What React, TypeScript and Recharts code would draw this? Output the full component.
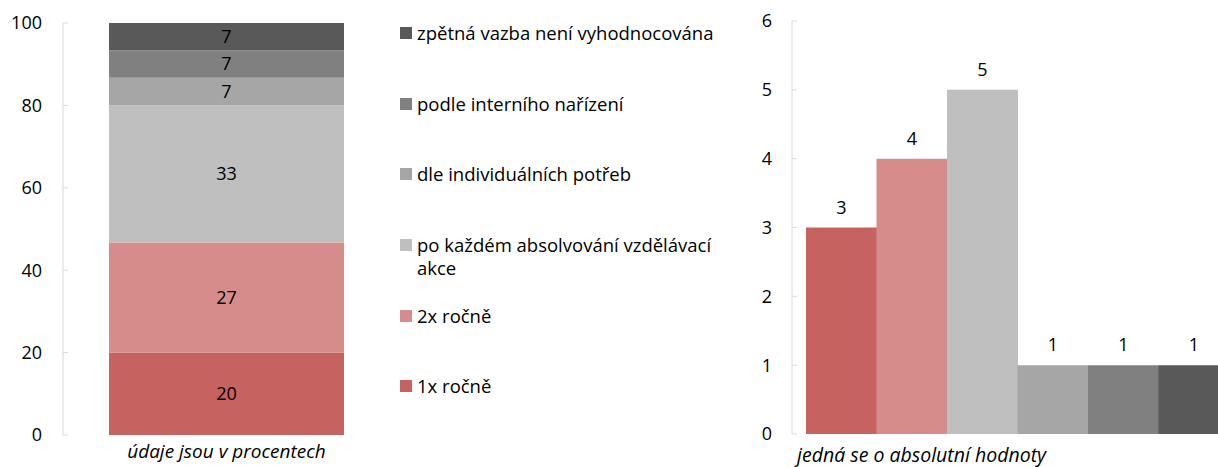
import { BarChart, Bar, XAxis, YAxis, LabelList, Cell } from "recharts";

const seriesNames: string[] = [
  "1x ročně",
  "2x ročně",
  "po každém absolvování vzdělávací akce",
  "dle individuálních potřeb",
  "podle interního nařízení",
  "zpětná vazba není vyhodnocována",
];
const seriesColors: string[] = ["#C6625F", "#D68C8B", "#BFBFBF", "#A6A6A6", "#808080", "#595959"];
const percentValues: number[] = [20, 26.7, 33.3, 6.7, 6.7, 6.6];
const absoluteValues: number[] = [3, 4, 5, 1, 1, 1];
const percentTicks: number[] = [0, 20, 40, 60, 80, 100];
const absoluteTicks: number[] = [0, 1, 2, 3, 4, 5, 6];
const percentCaption = "údaje jsou v procentech";
const absoluteCaption = "jedná se o absolutní hodnoty";

const FONT = "'Open Sans', sans-serif";

const stackedRow: Record<string, string | number> = { name: percentCaption };
seriesNames.forEach((s, i) => {
  stackedRow["s" + i] = percentValues[i];
});
const stackedData = [stackedRow];

const absData = seriesNames.map((s, i) => ({ name: s, value: absoluteValues[i] }));

const tickStyle = { fill: "#000", fontSize: 18, fontFamily: FONT };

function LegendBox() {
  const items = seriesNames.map((s, i) => ({ name: s, color: seriesColors[i] })).reverse();
  return (
    <div style={{ position: "absolute", left: 400, top: 21, fontFamily: FONT, fontSize: 18.5, color: "#000" }}>
      {items.map((it) => (
        <div key={it.name} style={{ display: "flex", alignItems: "flex-start", height: 70.7 }}>
          <div style={{ width: 12, height: 12, background: it.color, marginTop: 6, marginRight: 5, flex: "none" }} />
          <div style={{ width: 305, lineHeight: "23px" }}>{it.name}</div>
        </div>
      ))}
    </div>
  );
}

export default function App() {
  return (
    <div style={{ position: "absolute", left: 0, top: 0, width: 1218, height: 467, overflow: "hidden", background: "#fff" }}>
      <div style={{ position: "absolute", left: 0, top: 0 }}>
        <BarChart width={390} height={467} data={stackedData} margin={{ top: 23, right: 0, bottom: 0, left: 0 }}>
          <XAxis
            dataKey="name"
            axisLine={false}
            tickLine={false}
            tickSize={0}
            tickMargin={10}
            height={32}
            tick={{ ...tickStyle, fontStyle: "italic", fontSize: 19 }}
          />
          <YAxis
            width={63}
            domain={[0, 100]}
            ticks={percentTicks}
            allowDataOverflow
            axisLine={{ stroke: "#D9D9D9" }}
            tickLine={{ stroke: "#D9D9D9" }}
            tickSize={-5}
            tickMargin={26}
            tick={tickStyle}
          />
          {seriesNames.map((s, i) => (
            <Bar key={s} dataKey={"s" + i} name={s} stackId="a" fill={seriesColors[i]} barSize={235} isAnimationActive={false}>
              <LabelList
                dataKey={"s" + i}
                position="center"
                formatter={(v: any) => Math.round(Number(v))}
                style={{ fill: "#000", fontSize: 18, fontFamily: FONT }}
              />
            </Bar>
          ))}
        </BarChart>
      </div>
      <LegendBox />
      <div style={{ position: "absolute", left: 740, top: 0 }}>
        <BarChart width={503} height={467} data={absData} barCategoryGap={0} margin={{ top: 21, right: 0, bottom: 33, left: 0 }}>
          <XAxis dataKey="name" hide padding={{ left: 14, right: 14 }} />
          <YAxis
            width={52}
            domain={[0, 6]}
            ticks={absoluteTicks}
            axisLine={{ stroke: "#D9D9D9" }}
            tickLine={{ stroke: "#D9D9D9" }}
            tickSize={-5}
            tickMargin={25}
            tick={tickStyle}
          />
          <Bar dataKey="value" isAnimationActive={false}>
            {absData.map((d, i) => (
              <Cell key={d.name} fill={seriesColors[i]} />
            ))}
            <LabelList dataKey="value" position="top" offset={14} style={{ fill: "#000", fontSize: 18, fontFamily: FONT }} />
          </Bar>
        </BarChart>
      </div>
      <div
        style={{
          position: "absolute",
          left: 797,
          top: 444,
          lineHeight: "22px",
          fontFamily: FONT,
          fontSize: 19.5,
          fontStyle: "italic",
          color: "#000",
          whiteSpace: "nowrap",
        }}
      >
        {absoluteCaption}
      </div>
    </div>
  );
}
